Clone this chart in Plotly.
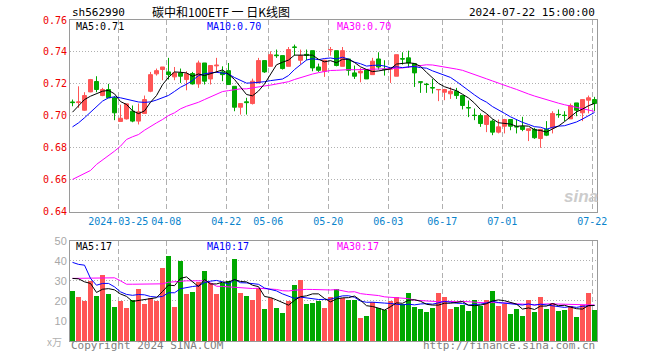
import plotly.graph_objects as go

# ---------------- data ----------------
opens = [0.7087, 0.7083, 0.7035, 0.7150, 0.7215, 0.7127, 0.7165, 0.7113, 0.6965, 0.6981,
         0.7029, 0.6967, 0.7015, 0.7154, 0.7263, 0.7290, 0.7275, 0.7244, 0.7269, 0.7227,
         0.7265, 0.7200, 0.7331, 0.7231, 0.7313, 0.7275, 0.7283, 0.7185, 0.7054, 0.7088,
         0.7077, 0.7206, 0.7346, 0.7310, 0.7381, 0.7377, 0.7310, 0.7431, 0.7348, 0.7385,
         0.7408, 0.7306, 0.7279, 0.7413, 0.7408, 0.7310, 0.7356, 0.7269, 0.7269, 0.7290,
         0.7258, 0.7356, 0.7292, 0.7292, 0.7248, 0.7358, 0.7363, 0.7327, 0.7213, 0.7198,
         0.7177, 0.7163, 0.7148, 0.7138, 0.7154, 0.7127, 0.7052, 0.7004, 0.7002, 0.6946,
         0.6967, 0.6898, 0.6935, 0.6977, 0.6933, 0.6933, 0.6908, 0.6915, 0.6858, 0.6915,
         0.6925, 0.7009, 0.7004, 0.6981, 0.7081, 0.7019, 0.7098, 0.7102]
highs = [0.7102, 0.7185, 0.7148, 0.7231, 0.7248, 0.7175, 0.7200, 0.7123, 0.7070, 0.7075,
         0.7065, 0.7077, 0.7127, 0.7275, 0.7296, 0.7306, 0.7363, 0.7306, 0.7296, 0.7279,
         0.7275, 0.7346, 0.7331, 0.7315, 0.7363, 0.7310, 0.7331, 0.7185, 0.7077, 0.7113,
         0.7233, 0.7363, 0.7346, 0.7404, 0.7415, 0.7377, 0.7431, 0.7446, 0.7415, 0.7415,
         0.7408, 0.7327, 0.7352, 0.7431, 0.7408, 0.7431, 0.7356, 0.7315, 0.7300, 0.7290,
         0.7363, 0.7398, 0.7348, 0.7306, 0.7383, 0.7398, 0.7408, 0.7327, 0.7213, 0.7206,
         0.7231, 0.7165, 0.7169, 0.7179, 0.7175, 0.7127, 0.7096, 0.7046, 0.7015, 0.7008,
         0.6977, 0.6977, 0.6981, 0.6977, 0.6977, 0.6994, 0.6919, 0.6925, 0.6919, 0.6967,
         0.7029, 0.7040, 0.7029, 0.7077, 0.7081, 0.7102, 0.7127, 0.7119]
lows = [0.7060, 0.7050, 0.7031, 0.7148, 0.7148, 0.7123, 0.7113, 0.6973, 0.6965, 0.6977,
        0.6960, 0.6946, 0.7015, 0.7148, 0.7252, 0.7223, 0.7227, 0.7223, 0.7206, 0.7160,
        0.7196, 0.7175, 0.7196, 0.7196, 0.7269, 0.7217, 0.7196, 0.7029, 0.7008, 0.7008,
        0.7071, 0.7206, 0.7269, 0.7310, 0.7363, 0.7290, 0.7310, 0.7377, 0.7321, 0.7348,
        0.7279, 0.7275, 0.7244, 0.7377, 0.7310, 0.7310, 0.7252, 0.7231, 0.7210, 0.7231,
        0.7258, 0.7290, 0.7252, 0.7206, 0.7248, 0.7321, 0.7300, 0.7181, 0.7144, 0.7144,
        0.7140, 0.7092, 0.7098, 0.7106, 0.7106, 0.7040, 0.6992, 0.6973, 0.6931, 0.6898,
        0.6879, 0.6890, 0.6890, 0.6910, 0.6890, 0.6904, 0.6842, 0.6856, 0.6800, 0.6873,
        0.6890, 0.6988, 0.6967, 0.6981, 0.6998, 0.6967, 0.7015, 0.7029]
closes = [0.7083, 0.7087, 0.7127, 0.7227, 0.7165, 0.7165, 0.7113, 0.7019, 0.6985, 0.7075,
          0.6967, 0.7025, 0.7102, 0.7258, 0.7283, 0.7306, 0.7258, 0.7269, 0.7248, 0.7263,
          0.7200, 0.7331, 0.7217, 0.7315, 0.7317, 0.7258, 0.7196, 0.7054, 0.7077, 0.7083,
          0.7217, 0.7346, 0.7275, 0.7383, 0.7377, 0.7296, 0.7415, 0.7429, 0.7377, 0.7380,
          0.7300, 0.7285, 0.7348, 0.7415, 0.7315, 0.7408, 0.7285, 0.7248, 0.7279, 0.7231,
          0.7342, 0.7306, 0.7290, 0.7300, 0.7383, 0.7356, 0.7331, 0.7269, 0.7211, 0.7196,
          0.7175, 0.7165, 0.7165, 0.7154, 0.7127, 0.7065, 0.7050, 0.7002, 0.6952, 0.7002,
          0.6898, 0.6931, 0.6977, 0.6935, 0.6931, 0.6915, 0.6919, 0.6863, 0.6915, 0.6879,
          0.7015, 0.7008, 0.7002, 0.7065, 0.7035, 0.7102, 0.7113, 0.7077]
volumes = [25.3, 22.3, 20.3, 30.3, 22.8, 33.3, 23.8, 17.3, 20.0, 16.8,
           20.8, 26.3, 18.8, 21.8, 20.2, 36.3, 42.3, 17.3, 40.0, 23.8,
           24.8, 29.8, 34.8, 29.0, 23.8, 29.2, 30.3, 40.8, 24.3, 22.8,
           20.8, 26.8, 16.3, 21.7, 16.8, 14.3, 20.3, 28.3, 30.8, 18.8,
           19.3, 20.3, 16.8, 22.3, 26.3, 21.8, 20.8, 20.8, 11.8, 12.8,
           19.8, 16.8, 15.8, 20.3, 22.3, 18.8, 24.3, 17.3, 16.3, 14.8,
           16.8, 24.3, 22.0, 16.3, 17.3, 18.3, 15.3, 20.8, 17.7, 20.8,
           25.3, 17.8, 18.8, 13.8, 16.3, 12.8, 20.8, 14.8, 22.3, 16.3,
           19.3, 15.3, 15.8, 17.8, 12.3, 18.3, 24.3, 15.8]

# moving-average values at the left edge (they depend on days before the window)
ma5_head = [0.7023, 0.7065, 0.7102, 0.7123]
ma10_head = [0.6931, 0.6956, 0.6988, 0.7023, 0.7060, 0.7092, 0.7113, 0.7119, 0.7113]
ma30_head = [0.6602, 0.6619, 0.6638, 0.6658, 0.6696, 0.6723, 0.6748, 0.6779, 0.6810, 0.6852,
             0.6869, 0.6883, 0.6910, 0.6935, 0.6956, 0.6977, 0.7002, 0.7019, 0.7044, 0.7060,
             0.7071, 0.7085, 0.7102, 0.7119, 0.7140, 0.7152, 0.7158, 0.7165, 0.7169]
vol_ma5_head = [31.2, 31.0, 29.5, 28.7]
vol_ma10_head = [39.2, 38.2, 37.8, 31.2, 27.8, 28.7, 28.7, 27.0, 24.5]
vol_ma30_head = [31.2, 31.2, 31.2, 31.2, 31.5, 31.5, 31.5, 31.5, 30.0, 28.3,
                 28.3, 28.3, 28.3, 28.3, 28.3, 28.5, 29.3, 29.5, 30.0, 30.0,
                 30.0, 30.0, 30.0, 29.0, 27.3, 27.2, 27.0, 27.0, 26.8]

tick_labels = ["2024-03-25", "04-08", "04-22", "05-06", "05-20", "06-03", "06-17", "07-01", "07-22"]
tick_index = [8, 16, 26, 33, 43, 53, 62, 72, 87]
price_ticks = [0.64, 0.66, 0.68, 0.70, 0.72, 0.74, 0.76]
vol_ticks = [10, 20, 30, 40, 50]

symbol = "sh562990"
title = "碳中和100ETF 一 日K线图"
timestamp = "2024-07-22 15:00:00"
ma_price_text = ["MA5:0.71", "MA10:0.70", "MA30:0.70"]
ma_vol_text = ["MA5:17", "MA10:17", "MA30:17"]


def moving_avg(vals, n, head):
    out = list(head)
    for i in range(len(head), len(vals)):
        w = vals[i - n + 1:i + 1]
        out.append(sum(w) / len(w))
    return out


n = len(closes)
idx = list(range(n))
RED = "#ff5555"
GREEN = "#00a800"
MONO = "DejaVu Sans Mono"

ma5 = moving_avg(closes, 5, ma5_head)
ma10 = moving_avg(closes, 10, ma10_head)
ma30 = moving_avg(closes, 30, ma30_head)
vma5 = moving_avg(volumes, 5, vol_ma5_head)
vma10 = moving_avg(volumes, 10, vol_ma10_head)
vma30 = moving_avg(volumes, 30, vol_ma30_head)

fig = go.Figure()
fig.add_trace(go.Candlestick(
    x=idx, open=opens, high=highs, low=lows, close=closes,
    increasing=dict(line=dict(color=RED, width=1), fillcolor=RED),
    decreasing=dict(line=dict(color=GREEN, width=1), fillcolor=GREEN),
    whiskerwidth=0, xaxis="x", yaxis="y", hoverinfo="skip", showlegend=False))

for vals, col in [(ma30, "#ff00ff"), (ma10, "#0000ff"), (ma5, "#000000")]:
    fig.add_trace(go.Scatter(x=idx, y=vals, mode="lines", line=dict(color=col, width=1),
                             xaxis="x", yaxis="y", hoverinfo="skip", showlegend=False))

bar_colors = [RED if c > o else GREEN for o, c in zip(opens, closes)]
fig.add_trace(go.Bar(x=idx, y=volumes, width=0.83, marker=dict(color=bar_colors, line=dict(width=0)),
                     xaxis="x2", yaxis="y2", hoverinfo="skip", showlegend=False))
for vals, col in [(vma30, "#ff00ff"), (vma10, "#0000ff"), (vma5, "#000000")]:
    fig.add_trace(go.Scatter(x=idx, y=vals, mode="lines", line=dict(color=col, width=1),
                             xaxis="x2", yaxis="y2", hoverinfo="skip", showlegend=False))

xr = [-0.4167, 87.4167]
grid_x = [t - 0.37 for t in tick_index]
axis_common = dict(showline=True, linecolor="#9a9a9a", linewidth=1, mirror=True,
                   zeroline=False, ticks="", fixedrange=True)

# geometry: plot area x 70..597, y 20..341
L, R, T, B = 70, 63, 20, 19
H = 360 - T - B


def py(p):
    return (360 - B - p) / H


def px(p):
    return (p - L) / (660 - L - R)


fig.update_layout(
    width=660, height=360, margin=dict(l=L, r=R, t=T, b=B),
    paper_bgcolor="white", plot_bgcolor="white",
    boxgap=1 / 3, boxgroupgap=0, bargap=0,
    xaxis=dict(domain=[0, 1], range=xr, anchor="y", tickmode="array", tickvals=grid_x,
               ticktext=tick_labels, showgrid=True, gridcolor="#b0b0b0", griddash="5px,3px",
               gridwidth=1, tickfont=dict(family=MONO, size=10, color="#0a84cc"),
               rangeslider=dict(visible=False), **axis_common),
    yaxis=dict(domain=[py(211.7), 1], range=[0.64, 0.76], anchor="x", tickmode="array",
               tickvals=price_ticks, ticktext=["%.2f" % v for v in price_ticks],
               showgrid=True, gridcolor="#b0b0b0", griddash="1px,2px", gridwidth=1,
               tickfont=dict(family=MONO, size=10, color="#ee0000"), **axis_common),
    xaxis2=dict(domain=[0, 1], range=xr, anchor="y2", tickmode="array", tickvals=grid_x,
                showticklabels=False, showgrid=True, gridcolor="#b0b0b0", griddash="5px,3px",
                gridwidth=1, **axis_common),
    yaxis2=dict(domain=[0, py(240.7)], range=[0, 50], anchor="x2", tickmode="array",
                tickvals=vol_ticks, showgrid=True, gridcolor="#b0b0b0", griddash="1px,2px",
                gridwidth=1, tickfont=dict(family="Liberation Sans", size=11, color="#a8a8a8"),
                **axis_common),
)

ann = []


def text(x, y, s, color="#000000", size=10, family=MONO, xanchor="left", **kw):
    ann.append(dict(x=px(x), y=py(y), xref="paper", yref="paper", text=s, showarrow=False,
                    xanchor=xanchor, yanchor="middle",
                    font=dict(family=family, size=size, color=color), **kw))


text(70, 12, symbol, size=11)
text(150, 11, title, size=12, family="Noto Sans CJK SC")
text(597, 12, timestamp, size=11, xanchor="right")
for s, x, c in zip(ma_price_text, [74, 205, 335], ["#000000", "#0000ff", "#ff00ff"]):
    text(x, 26.5, s, color=c)
for s, x, c in zip(ma_vol_text, [74, 205, 335], ["#000000", "#0000ff", "#ff00ff"]):
    text(x, 246.5, s, color=c)
text(69, 346, "Copyright 2024 SINA.COM", color="#808080", size=11)
text(597, 346, "http://finance.sina.com.cn", color="#808080", size=11, xanchor="right")
text(64, 341, "x万", color="#b0b0b0", size=10, family="Noto Sans CJK SC", xanchor="right")
text(581, 196, "<b><i>sina</i></b>", color="#cccccc", size=17, family="Liberation Sans",
     xanchor="center")
fig.update_layout(annotations=ann)

fig.write_html("out.html", config={"displayModeBar": False},
               post_script="document.body.style.margin='0';")
